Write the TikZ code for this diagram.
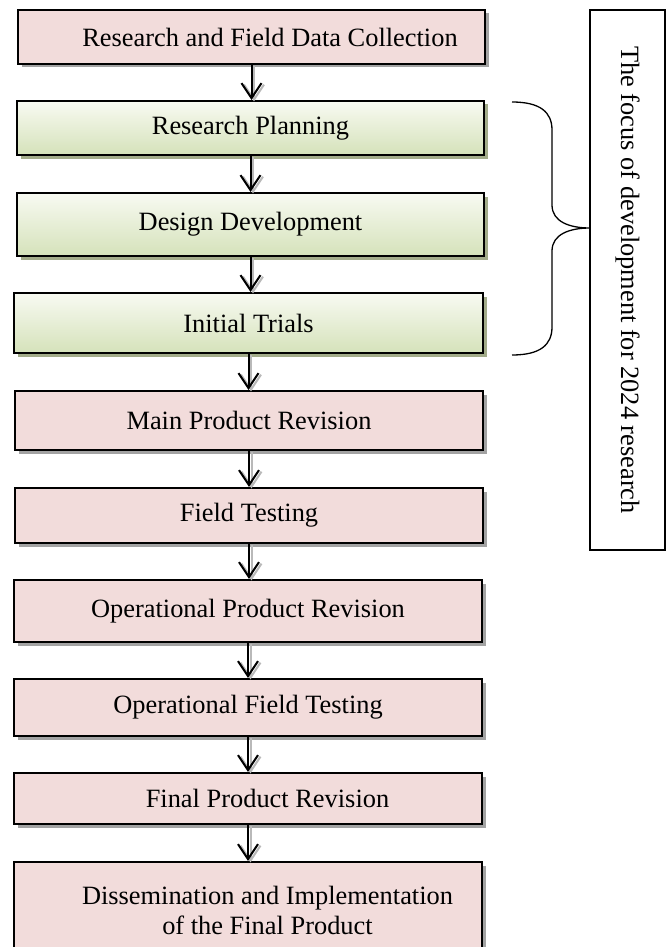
\documentclass[tikz,border=0pt]{standalone}
\usepackage{fontspec}
\setmainfont{Liberation Serif}
\usetikzlibrary{arrows.meta,shadows,calc}
\definecolor{pinkfill}{HTML}{F2DCDB}
\definecolor{greentop}{HTML}{F8FAF2}
\definecolor{greenbot}{HTML}{D5E2BA}
\definecolor{greenshadow}{HTML}{A3AC8A}
\definecolor{pinkshadow}{HTML}{A3A3A3}
\begin{document}
\begin{tikzpicture}[x=1pt,y=-1pt,
  font=\fontsize{26.4}{30}\selectfont,
  boxbase/.style={draw=black, line width=2.2pt, inner sep=0pt, align=center},
  pinkbox/.style={boxbase, fill=pinkfill,
    drop shadow={shadow xshift=3.5pt, shadow yshift=-3.5pt, fill=pinkshadow, opacity=1}},
  greenbox/.style={boxbase, top color=greentop, bottom color=greenbot,
    drop shadow={shadow xshift=3.5pt, shadow yshift=-3.5pt, fill=greenshadow, opacity=1}},
  arr/.style={line width=2pt, -{Straight Barb[length=15pt,width=20pt,line width=2pt]}},
  arrshadow/.style={line width=2pt, draw=gray!55, -{Straight Barb[length=15pt,width=20pt,line width=2pt]}},
  thin/.style={line width=1.3pt}
]
\useasboundingbox (0,0) rectangle (667,947);
\clip (0,0) rectangle (667,947);

\node[pinkbox, minimum width=467pt, minimum height=54pt] (b1) at (251.5,37)
  {\hspace*{37pt}Research and Field Data Collection};
\node[greenbox, minimum width=467pt, minimum height=54pt] (b2) at (250.5,128) {Research Planning};
\node[greenbox, minimum width=467pt, minimum height=63pt] (b3) at (250.5,224.5) {Design Development};
\node[greenbox, minimum width=469pt, minimum height=60pt] (b4) at (248.5,323) {Initial Trials};
\node[pinkbox, minimum width=468pt, minimum height=59pt] (b5) at (249,420.5) {Main Product Revision};
\node[pinkbox, minimum width=468pt, minimum height=55pt] (b6) at (249,515.5) {Field Testing};
\node[pinkbox, minimum width=468pt, minimum height=62pt] (b7) at (248,611) {Operational Product Revision};
\node[pinkbox, minimum width=468pt, minimum height=57pt] (b8) at (248,707.5) {Operational Field Testing};
\node[pinkbox, minimum width=468pt, minimum height=51pt] (b9) at (248,798.5)
  {\hspace*{39pt}Final Product Revision};
\node[pinkbox, minimum width=468pt, minimum height=96pt] (b10) at (248,910)
  {\hspace*{39pt}Dissemination and Implementation\\\hspace*{39pt}of the Final Product};

\foreach \a/\b in {b1/b2,b2/b3,b3/b4,b4/b5,b5/b6,b6/b7,b7/b8,b8/b9,b9/b10}{
  \draw[arrshadow] ($(\a.south)+(2.5,1)$) -- ($(\a.south |- \b.north)+(2.5,1.5)$);
  \draw[arr] (\a.south) -- (\a.south |- \b.north);
}

\node[draw=black, thin, rotate=-90, minimum width=540pt, minimum height=75pt, inner sep=0pt]
  (focus) at (627.5,280) {The focus of development for 2024 research};

\coordinate (btop) at (512,102);
\coordinate (bbot) at (512,355);
\coordinate (btip) at (590,228);
\draw[thin] (btop) .. controls (540,102) and (552,112) .. (552,130) -- (552,205)
  .. controls (552,222) and (570,228) .. (btip)
  .. controls (570,228) and (552,234) .. (552,251) -- (552,327)
  .. controls (552,345) and (540,355) .. (bbot);
\end{tikzpicture}
\end{document}
